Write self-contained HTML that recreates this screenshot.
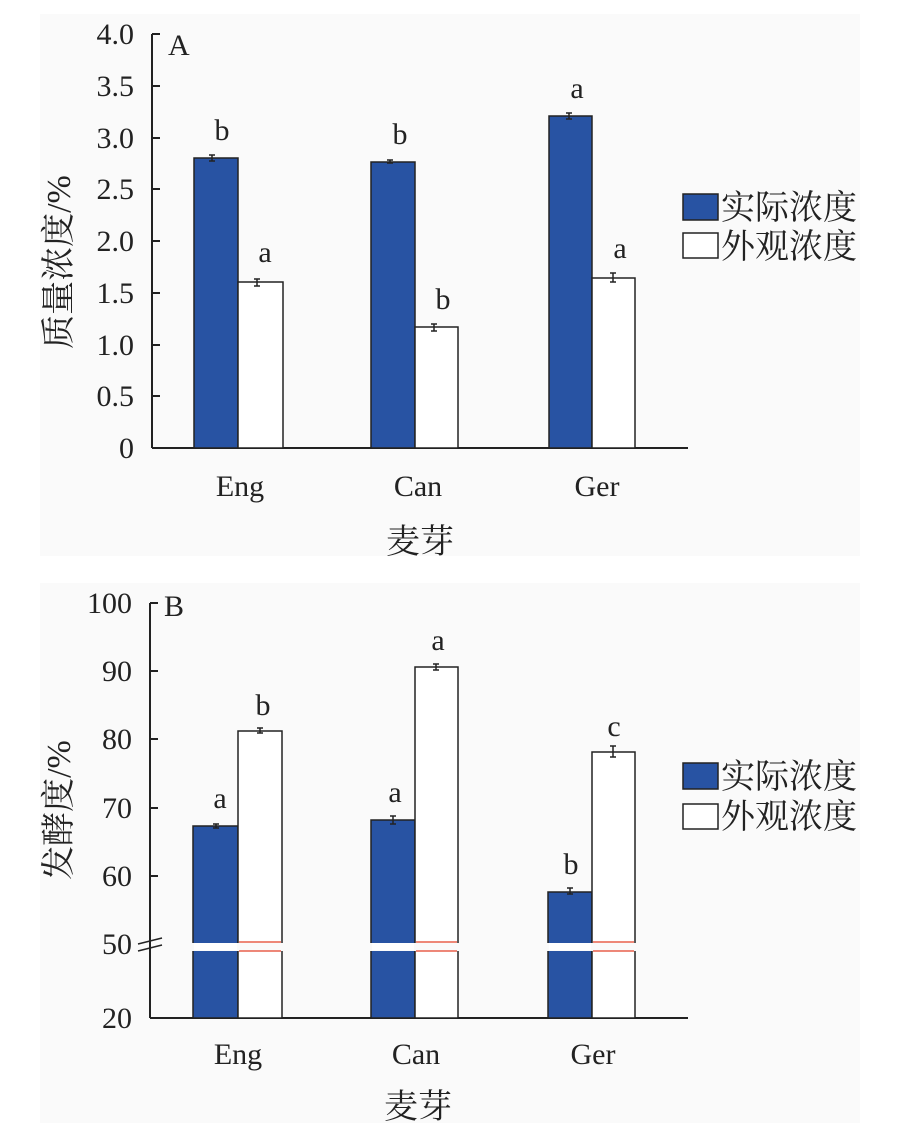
<!DOCTYPE html>
<html><head><meta charset="utf-8"><style>
body{margin:0;background:#fff;}
svg{display:block;}
text{font-family:"Liberation Serif","Noto Serif CJK SC",serif;fill:#222;}
.cj{font-family:"Liberation Serif","Noto Serif CJK SC","Noto Sans CJK SC",serif;}
</style></head><body>
<svg width="917" height="1129" viewBox="0 0 917 1129" xmlns="http://www.w3.org/2000/svg">
<rect x="40" y="14" width="820" height="542" fill="#fafafa"/>
<rect x="40" y="583" width="820" height="540" fill="#fafafa"/>
<g stroke="#222" stroke-width="2" fill="none">
<line x1="152" y1="34" x2="152" y2="448"/>
<line x1="152" y1="448" x2="688" y2="448"/>
<line x1="152" y1="34" x2="160" y2="34"/><line x1="152" y1="86" x2="160" y2="86"/>
<line x1="152" y1="138" x2="160" y2="138"/><line x1="152" y1="189" x2="160" y2="189"/>
<line x1="152" y1="241" x2="160" y2="241"/><line x1="152" y1="293" x2="160" y2="293"/>
<line x1="152" y1="345" x2="160" y2="345"/><line x1="152" y1="396" x2="160" y2="396"/>
</g>
<g stroke="#222" stroke-width="1.5">
<rect x="194" y="158" width="44" height="290" fill="#2853a3"/>
<rect x="238" y="282" width="45" height="166" fill="#fff"/>
<rect x="371" y="162" width="44" height="286" fill="#2853a3"/>
<rect x="415" y="327" width="43" height="121" fill="#fff"/>
<rect x="549" y="116" width="43" height="332" fill="#2853a3"/>
<rect x="592" y="278" width="43" height="170" fill="#fff"/>
</g>
<g stroke="#222" stroke-width="1.5">
<path d="M212 155v6M209 155h6M209 161h6"/>
<path d="M257 279v7M254 279h6M254 286h6"/>
<path d="M390 160v3M387 160h6M387 163h6"/>
<path d="M434 324v7M431 324h6M431 331h6"/>
<path d="M569 113v6M566 113h6M566 119h6"/>
<path d="M613 273v9M610 273h6M610 282h6"/>
</g>
<g font-size="30" text-anchor="middle">
<text x="222" y="140">b</text><text x="265" y="262">a</text>
<text x="400" y="144">b</text><text x="443" y="309">b</text>
<text x="577" y="98">a</text><text x="620" y="258">a</text>
</g>
<g font-size="30" text-anchor="end">
<text x="134" y="44">4.0</text><text x="134" y="96">3.5</text><text x="134" y="148">3.0</text>
<text x="134" y="199">2.5</text><text x="134" y="251">2.0</text><text x="134" y="303">1.5</text>
<text x="134" y="355">1.0</text><text x="134" y="406">0.5</text><text x="134" y="458">0</text>
</g>
<text x="168" y="55" font-size="30">A</text>
<g font-size="30" text-anchor="middle">
<text x="240" y="496">Eng</text><text x="418" y="496">Can</text><text x="597" y="496">Ger</text>
</g>
<text x="420" y="553" font-size="34" text-anchor="middle" class="cj">麦芽</text>
<text transform="translate(70,262) rotate(-90)" font-size="34" text-anchor="middle" class="cj">质量浓度/%</text>
<rect x="683" y="194" width="35" height="26" fill="#2853a3" stroke="#222" stroke-width="1.5"/>
<rect x="683" y="233" width="35" height="25" fill="#fff" stroke="#222" stroke-width="1.5"/>
<text x="721" y="219" font-size="34" class="cj" textLength="136">实际浓度</text>
<text x="721" y="258" font-size="34" class="cj" textLength="136">外观浓度</text>

<g stroke="#222" stroke-width="2" fill="none">
<line x1="150" y1="603" x2="150" y2="1018"/>
<line x1="150" y1="1018" x2="688" y2="1018"/>
<line x1="150" y1="603" x2="158" y2="603"/><line x1="150" y1="671" x2="158" y2="671"/>
<line x1="150" y1="739" x2="158" y2="739"/><line x1="150" y1="808" x2="158" y2="808"/>
<line x1="150" y1="876" x2="158" y2="876"/>
</g>
<g stroke="#222" stroke-width="1.5">
<rect x="193" y="826" width="45" height="192" fill="#2853a3"/>
<rect x="238" y="731" width="44" height="287" fill="#fff"/>
<rect x="371" y="820" width="44" height="198" fill="#2853a3"/>
<rect x="415" y="667" width="43" height="351" fill="#fff"/>
<rect x="548" y="892" width="44" height="126" fill="#2853a3"/>
<rect x="592" y="752" width="43" height="266" fill="#fff"/>
</g>
<g stroke="#222" stroke-width="1.5">
<path d="M216 824v4M213 824h6M213 828h6"/>
<path d="M260 728v5M257 728h6M257 733h6"/>
<path d="M393 816v8M390 816h6M390 824h6"/>
<path d="M436 664v6M433 664h6M433 670h6"/>
<path d="M570 888v6M567 888h6M567 894h6"/>
<path d="M613 746v11M610 746h6M610 757h6"/>
</g>
<rect x="152" y="943" width="536" height="8" fill="#fafafa"/>
<rect x="194" y="943" width="43" height="7" fill="#fff"/>
<rect x="372" y="943" width="42" height="7" fill="#fff"/>
<rect x="549" y="943" width="42" height="7" fill="#fff"/>
<g stroke="#e8604c" stroke-width="1.5">
<line x1="239" y1="942" x2="281" y2="942"/><line x1="239" y1="951" x2="281" y2="951"/>
<line x1="416" y1="942" x2="457" y2="942"/><line x1="416" y1="951" x2="457" y2="951"/>
<line x1="593" y1="942" x2="634" y2="942"/><line x1="593" y1="951" x2="634" y2="951"/>
</g>
<g stroke="#222" stroke-width="1.5">
<line x1="138" y1="944" x2="162" y2="938"/><line x1="138" y1="951" x2="162" y2="945"/>
</g>
<g font-size="30" text-anchor="middle">
<text x="220" y="808">a</text><text x="263" y="715">b</text>
<text x="395" y="802">a</text><text x="438" y="650">a</text>
<text x="571" y="874">b</text><text x="614" y="736">c</text>
</g>
<g font-size="30" text-anchor="end">
<text x="132" y="613">100</text><text x="132" y="681">90</text><text x="132" y="749">80</text>
<text x="132" y="818">70</text><text x="132" y="886">60</text><text x="132" y="954">50</text>
<text x="132" y="1028">20</text>
</g>
<text x="164" y="616" font-size="30">B</text>
<g font-size="30" text-anchor="middle">
<text x="238" y="1064">Eng</text><text x="416" y="1064">Can</text><text x="593" y="1064">Ger</text>
</g>
<text x="418" y="1118" font-size="34" text-anchor="middle" class="cj">麦芽</text>
<text transform="translate(70,810) rotate(-90)" font-size="34" text-anchor="middle" class="cj">发酵度/%</text>
<rect x="683" y="763" width="35" height="26" fill="#2853a3" stroke="#222" stroke-width="1.5"/>
<rect x="683" y="804" width="35" height="25" fill="#fff" stroke="#222" stroke-width="1.5"/>
<text x="721" y="788" font-size="34" class="cj" textLength="136">实际浓度</text>
<text x="721" y="828" font-size="34" class="cj" textLength="136">外观浓度</text>
</svg>
</body></html>
